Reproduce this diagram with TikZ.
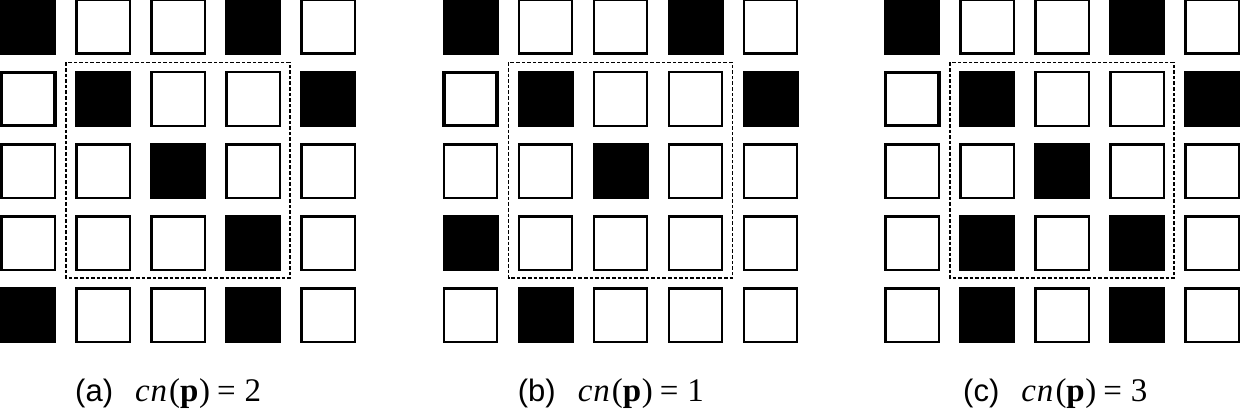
\documentclass[tikz,border=0pt]{standalone}
\usepackage{fontspec}
\setmainfont{Liberation Serif}
\newfontfamily\capsans{Liberation Sans}
\tikzset{
  cellw/.style={draw=black, line width=2.3pt, fill=white, minimum size=53.4pt, inner sep=0pt},
  cellb/.style={draw=black, line width=2.3pt, fill=black, minimum size=53.7pt, inner sep=0pt},
  cellthick/.style={draw=black, line width=3.6pt, fill=white, minimum size=53.1pt, inner sep=0pt},
  window/.style={draw=black, line width=1.6pt, dash pattern=on 3.6pt off 2pt},
  caption/.style={font=\fontsize{31}{37}\selectfont, inner sep=0pt, anchor=base west}
}
\newcommand\drawpanel[6]{% #1 name, #2 x offset, #3 pattern, #4 letter, #5 number, #6 caption x
  \foreach \v [count=\k from 0] in {#3} {%
    \pgfmathtruncatemacro\rr{floor(\k/5)}%
    \pgfmathtruncatemacro\cc{\k-5*\rr}%
    \ifcase\v\relax
      \node[cellw] (#1-\rr-\cc) at ({#2+75*\cc+28.15},{26.9+72.1*\rr}) {};
    \or
      \node[cellb] (#1-\rr-\cc) at ({#2+75*\cc+28.15},{26.9+72.1*\rr}) {};
    \or
      \node[cellthick] (#1-\rr-\cc) at ({#2+75*\cc+28.15},{26.9+72.1*\rr}) {};
    \fi
  }%
  \draw[window] ({#2+66.2},62.5) rectangle ({#2+289.9},278.3);
  \node[caption] (#1-cap) at ({#2+#6},401) {{\capsans(#4)}\hspace{22pt}{\fontsize{33}{39}\selectfont\itshape c\kern1pt n\kern2pt\upshape(\textbf{p}\kern0.5pt)\hspace{7pt}=\hspace{9pt}#5}};
}
\begin{document}
\begin{tikzpicture}[x=1pt,y=-1pt]
  \useasboundingbox[fill=white] (0,0) rectangle (1240,414);
  \drawpanel{a}{0}{1,0,0,1,0, 2,1,0,0,1, 0,0,1,0,0, 0,0,0,1,0, 1,0,0,1,0}{a}{2}{75}
  \drawpanel{b}{442.4}{1,0,0,1,0, 2,1,0,0,1, 0,0,1,0,0, 1,0,0,0,0, 0,1,0,0,0}{b}{1}{75.3}
  \drawpanel{c}{884}{1,0,0,1,0, 2,1,0,0,1, 0,0,1,0,0, 0,1,0,1,0, 0,1,0,1,0}{c}{3}{79}
\end{tikzpicture}
\end{document}
